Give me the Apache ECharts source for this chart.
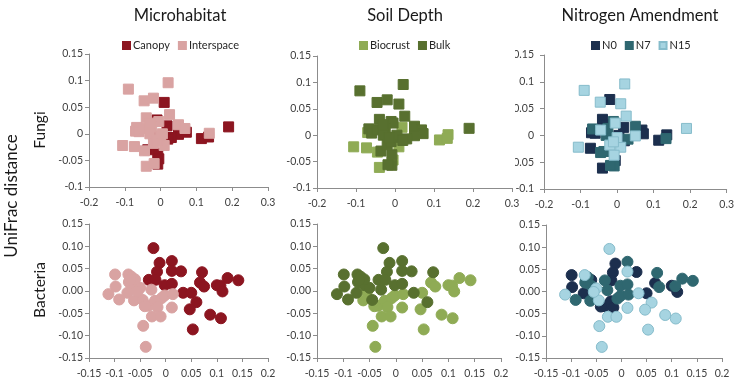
<!DOCTYPE html>
<html>
<head>
<meta charset="utf-8">
<script src="https://cdn.jsdelivr.net/npm/echarts@6/dist/echarts.min.js"></script>
<style>
  html, body { margin: 0; padding: 0; background: #fff; }
  #main { width: 737px; height: 379px; }
</style>
</head>
<body>
<div id="main"></div>
<script>
// Fungi ordination (squares) - one entry per sample
const fungiX = [-0.090, 0.021, -0.046, -0.020, 0.010, 0.025, -0.040, -0.010, -0.005, 0.018,
  0.050, 0.068, 0.072, 0.050, 0.030, 0.136, 0.114, 0.134, 0.190, -0.067,
  -0.070, -0.060, -0.045, -0.025, -0.030, -0.106, -0.073, -0.045, -0.036, -0.020,
  0.010, -0.008, -0.005, -0.008, -0.040, -0.018, 0.000, -0.010, 0.005, -0.015,
  0.020, -0.030];
const fungiY = [0.084, 0.096, 0.062, 0.067, 0.059, 0.036, 0.030, 0.026, 0.023, 0.015,
  0.017, 0.010, 0.003, -0.001, -0.007, 0.001, -0.009, -0.006, 0.013, 0.012,
  0.005, 0.004, 0.010, 0.013, 0.000, -0.022, -0.024, -0.032, -0.030, -0.018,
  -0.022, -0.037, -0.047, -0.057, -0.061, -0.056, -0.004, -0.012, 0.000, -0.005,
  -0.010, 0.020];
const fungiHabitat = ['Interspace', 'Interspace', 'Interspace', 'Interspace', 'Canopy', 'Interspace', 'Interspace', 'Canopy', 'Interspace', 'Canopy',
  'Interspace', 'Interspace', 'Canopy', 'Canopy', 'Canopy', 'Interspace', 'Canopy', 'Canopy', 'Canopy', 'Interspace',
  'Interspace', 'Interspace', 'Interspace', 'Interspace', 'Interspace', 'Interspace', 'Interspace', 'Interspace', 'Canopy', 'Interspace',
  'Interspace', 'Canopy', 'Canopy', 'Canopy', 'Interspace', 'Interspace', 'Interspace', 'Interspace', 'Interspace', 'Canopy',
  'Canopy', 'Interspace'];
const fungiDepth = ['Bulk', 'Bulk', 'Bulk', 'Bulk', 'Bulk', 'Bulk', 'Bulk', 'Bulk', 'Bulk', 'Biocrust',
  'Bulk', 'Bulk', 'Bulk', 'Bulk', 'Bulk', 'Biocrust', 'Biocrust', 'Biocrust', 'Bulk', 'Bulk',
  'Biocrust', 'Bulk', 'Bulk', 'Bulk', 'Bulk', 'Biocrust', 'Biocrust', 'Biocrust', 'Bulk', 'Bulk',
  'Biocrust', 'Bulk', 'Biocrust', 'Bulk', 'Biocrust', 'Bulk', 'Bulk', 'Bulk', 'Bulk', 'Bulk',
  'Bulk', 'Bulk'];
const fungiN = ['N15', 'N15', 'N15', 'N0', 'N15', 'N15', 'N0', 'N7', 'N15', 'N0',
  'N7', 'N0', 'N0', 'N15', 'N7', 'N0', 'N0', 'N7', 'N15', 'N7',
  'N0', 'N0', 'N15', 'N7', 'N7', 'N15', 'N0', 'N7', 'N7', 'N15',
  'N15', 'N15', 'N0', 'N7', 'N0', 'N7', 'N15', 'N15', 'N0', 'N7',
  'N0', 'N0'];

// Bacteria ordination (circles)
const bactX = [-0.024, -0.012, -0.017, -0.033, -0.020, 0.012, 0.012, 0.030, -0.002, 0.012,
  0.034, 0.050, 0.071, 0.067, 0.075, 0.060, 0.047, 0.087, 0.053, 0.100,
  0.107, 0.111, 0.121, 0.142, 0.108,
  -0.099, -0.098, -0.112, -0.091, -0.073, -0.067, -0.072, -0.060, -0.050, -0.075,
  -0.062, -0.045, -0.028, -0.034, -0.021, -0.008, -0.002, 0.014, -0.016, 0.012,
  -0.027, -0.010, -0.044, -0.039, -0.060, -0.041, -0.070, -0.055];
const bactY = [0.096, 0.063, 0.043, 0.025, 0.025, 0.067, 0.045, 0.044, 0.013, 0.016,
  -0.004, -0.004, 0.042, 0.019, 0.010, -0.025, -0.041, -0.053, -0.086, 0.013,
  0.012, -0.001, 0.029, 0.024, -0.061,
  0.037, 0.010, -0.007, -0.019, 0.037, 0.032, 0.020, 0.013, 0.007, -0.004,
  -0.021, -0.020, 0.003, -0.033, -0.022, -0.016, -0.010, -0.007, -0.036, -0.037,
  -0.057, -0.057, -0.078, -0.125, 0.026, -0.034, 0.025, -0.001];
const bactHabitat = ['Canopy', 'Canopy', 'Canopy', 'Canopy', 'Canopy', 'Canopy', 'Canopy', 'Canopy', 'Canopy', 'Canopy',
  'Canopy', 'Canopy', 'Canopy', 'Canopy', 'Canopy', 'Canopy', 'Canopy', 'Canopy', 'Canopy', 'Canopy',
  'Canopy', 'Canopy', 'Canopy', 'Canopy', 'Canopy',
  'Interspace', 'Interspace', 'Interspace', 'Interspace', 'Interspace', 'Interspace', 'Interspace', 'Interspace', 'Interspace', 'Interspace',
  'Interspace', 'Interspace', 'Interspace', 'Interspace', 'Interspace', 'Interspace', 'Interspace', 'Interspace', 'Interspace', 'Interspace',
  'Interspace', 'Interspace', 'Interspace', 'Interspace', 'Interspace', 'Interspace', 'Interspace', 'Interspace'];
const bactDepth = ['Bulk', 'Bulk', 'Bulk', 'Bulk', 'Bulk', 'Bulk', 'Bulk', 'Bulk', 'Bulk', 'Bulk',
  'Bulk', 'Biocrust', 'Bulk', 'Biocrust', 'Biocrust', 'Bulk', 'Biocrust', 'Biocrust', 'Biocrust', 'Biocrust',
  'Biocrust', 'Biocrust', 'Biocrust', 'Biocrust', 'Biocrust',
  'Bulk', 'Bulk', 'Bulk', 'Bulk', 'Bulk', 'Bulk', 'Bulk', 'Bulk', 'Bulk', 'Bulk',
  'Biocrust', 'Bulk', 'Bulk', 'Biocrust', 'Biocrust', 'Biocrust', 'Biocrust', 'Biocrust', 'Biocrust', 'Biocrust',
  'Biocrust', 'Biocrust', 'Biocrust', 'Biocrust', 'Bulk', 'Biocrust', 'Bulk', 'Biocrust'];
const bactN = ['N15', 'N0', 'N0', 'N7', 'N0', 'N7', 'N15', 'N0', 'N7', 'N7',
  'N15', 'N0', 'N7', 'N0', 'N7', 'N15', 'N15', 'N15', 'N15', 'N0',
  'N7', 'N0', 'N7', 'N7', 'N15',
  'N0', 'N0', 'N15', 'N7', 'N15', 'N7', 'N7', 'N7', 'N15', 'N0',
  'N7', 'N15', 'N7', 'N0', 'N0', 'N7', 'N7', 'N7', 'N0', 'N15',
  'N15', 'N15', 'N15', 'N15', 'N0', 'N0', 'N7', 'N15'];

// tick labels
const fungiXTicks = ['-0.2', '-0.1', '0', '0.1', '0.2', '0.3'];
const fungiYTicks = ['-0.1', '-0.05', '0', '0.05', '0.1', '0.15'];
const bactXTicks = ['-0.15', '-0.1', '-0.05', '0', '0.05', '0.1', '0.15', '0.2'];
const bactYTicks = ['-0.15', '-0.10', '-0.05', '0.00', '0.05', '0.10', '0.15'];

const colTitles = ['Microhabitat', 'Soil Depth', 'Nitrogen Amendment'];
const groupSets = [['Canopy', 'Interspace'], ['Biocrust', 'Bulk'], ['N0', 'N7', 'N15']];

const colors = {
  Canopy: '#8C1520', Interspace: '#D9A3A2',
  Biocrust: '#8FAB55', Bulk: '#58702F',
  N0: '#1C2F4E', N7: '#2F6770', N15: '#A6D4E1'
};
const borders = { N15: '#86BCCB' };

const FONT = 'Lato';
const chart = echarts.init(document.getElementById('main'));

const grids = [
  { left: 89, top: 54, width: 179, height: 133 },
  { left: 317, top: 56, width: 195, height: 132 },
  { left: 544, top: 55, width: 188, height: 134 },
  { left: 89, top: 224, width: 179, height: 134 },
  { left: 317, top: 224, width: 184, height: 134 },
  { left: 546, top: 225, width: 176, height: 134 }
];
const yLabelMargin = [6, 6, 10, 6, 6, 6];

const makeAxis = (gridIndex, min, max, interval, ticks, margin) => ({
  type: 'value',
  gridIndex, min, max, interval,
  axisLine: { show: true, onZero: false, lineStyle: { color: '#8c8c8c', width: 1 } },
  axisTick: { show: true, length: 4, lineStyle: { color: '#8c8c8c' } },
  splitLine: { show: false },
  axisLabel: {
    color: '#404040', fontFamily: FONT, fontSize: 10.5, margin,
    formatter: (v) => ticks[Math.round((v - min) / interval)]
  }
});

const xAxis = [];
const yAxis = [];
for (let c = 0; c < 3; c++) {
  xAxis.push(makeAxis(c, -0.2, 0.3, 0.1, fungiXTicks, 10));
  yAxis.push(makeAxis(c, -0.1, 0.15, 0.05, fungiYTicks, yLabelMargin[c]));
}
for (let c = 0; c < 3; c++) {
  xAxis.push(makeAxis(c + 3, -0.15, 0.2, 0.05, bactXTicks, 10));
  yAxis.push(makeAxis(c + 3, -0.15, 0.15, 0.05, bactYTicks, yLabelMargin[c + 3]));
}

const series = [];
const fungiAttr = [fungiHabitat, fungiDepth, fungiN];
const bactAttr = [bactHabitat, bactDepth, bactN];
for (let c = 0; c < 3; c++) {
  groupSets[c].forEach((g) => {
    series.push({
      type: 'scatter', name: g, xAxisIndex: c, yAxisIndex: c,
      symbol: 'rect', symbolSize: 10,
      itemStyle: { color: colors[g], borderColor: borders[g] || colors[g], borderWidth: 1, opacity: 1 },
      data: fungiX.map((x, i) => [x, fungiY[i]]).filter((d, i) => fungiAttr[c][i] === g)
    });
    series.push({
      type: 'scatter', name: g, xAxisIndex: c + 3, yAxisIndex: c + 3,
      symbol: 'circle', symbolSize: 11,
      itemStyle: { color: colors[g], borderColor: borders[g] || colors[g], borderWidth: 1, opacity: 1 },
      data: bactX.map((x, i) => [x, bactY[i]]).filter((d, i) => bactAttr[c][i] === g)
    });
  });
}

const legendLeft = [122, 359, 591];
const legend = groupSets.map((set, c) => ({
  data: set, left: legendLeft[c], top: 40, padding: 0,
  icon: 'rect', itemWidth: 7, itemHeight: 7, itemGap: 8,
  selectedMode: false,
  textStyle: { fontFamily: FONT, fontSize: 11, color: '#262626', padding: [0, 0, 0, -2] }
}));

const titleX = [180, 405, 640];
const graphic = colTitles.map((t, c) => ({
  type: 'text', x: titleX[c], y: 16,
  style: { text: t, fontFamily: FONT, fontSize: 16.5, fill: '#1a1a1a', textAlign: 'center', textVerticalAlign: 'middle' }
}));
// white mask where panel 2 overlaps the left labels of panel 3
graphic.push({
  type: 'rect', shape: { x: 503, y: 48, width: 12, height: 135 },
  style: { fill: '#fff' }, z: 100
});
graphic.push(
  { type: 'text', x: 40, y: 130, rotation: Math.PI / 2,
    style: { text: 'Fungi', fontFamily: FONT, fontSize: 15.5, fill: '#1a1a1a', textAlign: 'center', textVerticalAlign: 'middle' } },
  { type: 'text', x: 40, y: 290, rotation: Math.PI / 2,
    style: { text: 'Bacteria', fontFamily: FONT, fontSize: 15.5, fill: '#1a1a1a', textAlign: 'center', textVerticalAlign: 'middle' } },
  { type: 'text', x: 12, y: 196, rotation: Math.PI / 2,
    style: { text: 'UniFrac distance', fontFamily: FONT, fontSize: 17, fill: '#1a1a1a', textAlign: 'center', textVerticalAlign: 'middle' } }
);

chart.setOption({
  animation: false,
  backgroundColor: '#fff',
  grid: grids,
  xAxis, yAxis, legend, series, graphic
});
</script>
</body>
</html>
